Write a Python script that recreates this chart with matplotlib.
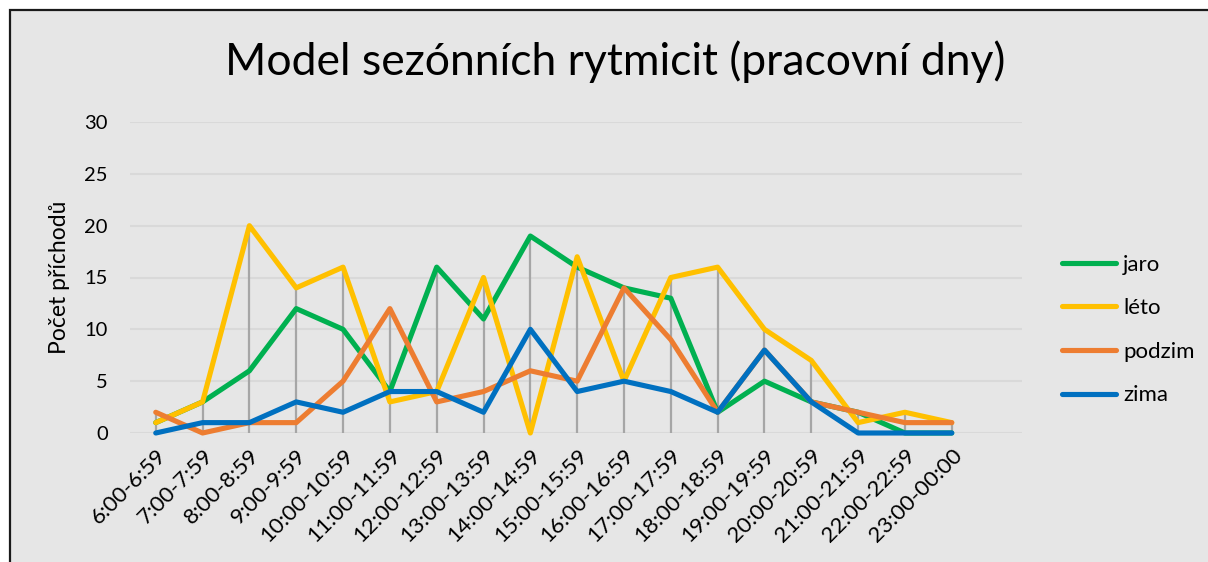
import matplotlib.pyplot as plt
from matplotlib.patches import Rectangle
import numpy as np

plt.rcParams['font.family'] = ['Lato', 'DejaVu Sans']

categories = ['6:00-6:59', '7:00-7:59', '8:00-8:59', '9:00-9:59', '10:00-10:59',
              '11:00-11:59', '12:00-12:59', '13:00-13:59', '14:00-14:59', '15:00-15:59',
              '16:00-16:59', '17:00-17:59', '18:00-18:59', '19:00-19:59', '20:00-20:59',
              '21:00-21:59', '22:00-22:59', '23:00-00:00']
jaro = [1, 3, 6, 12, 10, 4, 16, 11, 19, 16, 14, 13, 2, 5, 3, 2, 0, 0]
leto = [1, 3, 20, 14, 16, 3, 4, 15, 0, 17, 5, 15, 16, 10, 7, 1, 2, 1]
podzim = [2, 0, 1, 1, 5, 12, 3, 4, 6, 5, 14, 9, 2, 8, 3, 2, 1, 1]
zima = [0, 1, 1, 3, 2, 4, 4, 2, 10, 4, 5, 4, 2, 8, 3, 0, 0, 0]

series = [('jaro', jaro, '#00B050'),
          ('léto', leto, '#FFC000'),
          ('podzim', podzim, '#ED7D31'),
          ('zima', zima, '#0070C0')]

bg = '#E6E6E6'
fig = plt.figure(figsize=(12.08, 5.62), dpi=100)
fig.patch.set_facecolor('white')
# chart area with dark frame (right/bottom edges cut off)
fig.patches.append(Rectangle((9.5 / 1208, -0.1), 1.3, 1 - 10 / 562 + 0.1,
                             transform=fig.transFigure, facecolor=bg,
                             edgecolor='#1a1a1a', linewidth=1.6, zorder=-5))

ax = fig.add_axes([130 / 1208, 1 - 433 / 562, (1022 - 130) / 1208, (433 - 122) / 562])
ax.set_facecolor(bg)
x = np.arange(len(categories))

# drop lines from the highest value down to the axis
top = np.max([jaro, leto, podzim, zima], axis=0)
ax.vlines(x, 0, top, color='#A6A6A6', linewidth=1.6, zorder=2)

for name, vals, col in series:
    ax.plot(x, vals, color=col, linewidth=3.7, label=name, zorder=3,
            solid_joinstyle='round', solid_capstyle='round', clip_on=False)

ax.set_xlim(-0.55, 18.5)
ax.set_ylim(0, 30)
ax.set_yticks(range(0, 31, 5))
ax.yaxis.grid(True, color='#D9D9D9', linewidth=1.5, zorder=0)
ax.set_axisbelow(True)
for s in ax.spines.values():
    s.set_visible(False)
ax.tick_params(length=0)
ax.tick_params(axis='y', labelsize=14.5, pad=16)
ax.set_xticks(x)
ax.set_xticklabels(categories, rotation=45, ha='right', rotation_mode='anchor', fontsize=16)
ax.tick_params(axis='x', pad=9)
ax.set_ylabel('Počet příchodů', fontsize=16.5, labelpad=10)

fig.text(615 / 1208, 1 - 62 / 562, 'Model sezónních rytmicit (pracovní dny)',
         ha='center', va='center', fontsize=32)

leg = ax.legend(loc='center left', bbox_to_anchor=(1042 / 1208, 1 - 330 / 562),
                bbox_transform=fig.transFigure, frameon=False, fontsize=16,
                handlelength=2.45, labelspacing=1.06, handletextpad=0.3)

fig.savefig('out.png', dpi=100, facecolor=fig.get_facecolor())
